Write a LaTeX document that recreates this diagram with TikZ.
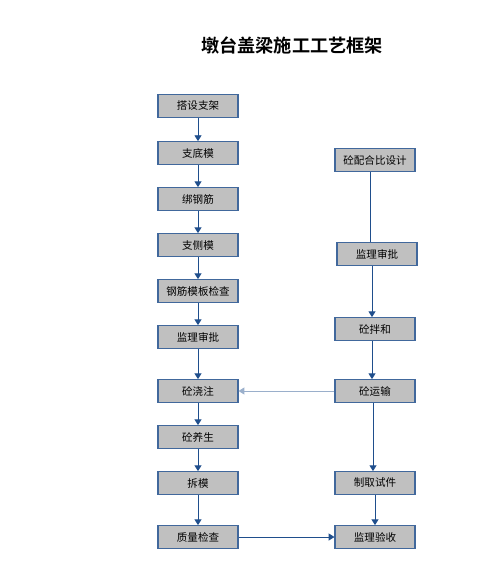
\documentclass[tikz,border=0pt]{standalone}
\usepackage{fontspec}
\newfontfamily\cjk{Noto Sans CJK SC}
\newfontfamily\cjkbold{Noto Sans CJK SC Bold}
\usetikzlibrary{arrows.meta,positioning}
\definecolor{linkblue}{HTML}{1F4E8C}
\definecolor{boxedge}{HTML}{41689C}
\definecolor{boxfill}{HTML}{C0C0C0}
\tikzset{
    flow/.style  = {-{Triangle[width=6pt,length=5pt]}, line width=0.8pt, draw=linkblue},
    plain/.style = {line width=0.8pt, draw=linkblue},
    stepbox/.style = {rectangle, draw=boxedge, line width=0.9pt, fill=boxfill,
                      minimum width=2.4cm, minimum height=0.68cm, inner sep=1pt,
                      font=\cjk\fontsize{9}{10}\selectfont}
}

\begin{document}
\begin{tikzpicture}[x=0.03cm, y=-0.03cm,
        title/.style = {font=\cjkbold\fontsize{15.5}{17}\selectfont},
        back/.style  = {-{Triangle[width=6pt,length=5pt]}, line width=0.8pt, draw=linkblue!45}
    ]
        \useasboundingbox (0,0) rectangle (502,565);

        % Title
        \node[title] (ttl) at (292, 45) {墩台盖梁施工工艺框架};

        % Left column
        \node[stepbox] (l1)  at (198, 106) {搭设支架};
        \node[stepbox] (l2)  at (198, 153) {支底模};
        \node[stepbox] (l3)  at (198, 199) {绑钢筋};
        \node[stepbox] (l4)  at (198, 245) {支侧模};
        \node[stepbox] (l5)  at (198, 291) {钢筋模板检查};
        \node[stepbox] (l6)  at (198, 337) {监理审批};
        \node[stepbox] (l7)  at (198, 391) {砼浇注};
        \node[stepbox] (l8)  at (198, 437) {砼养生};
        \node[stepbox] (l9)  at (198, 483) {拆模};
        \node[stepbox] (l10) at (198, 537) {质量检查};

        % Right column
        \node[stepbox] (r1) at (375, 160) {砼配合比设计};
        \node[stepbox] (r2) at (377, 254) {监理审批};
        \node[stepbox] (r3) at (375, 329) {砼拌和};
        \node[stepbox] (r4) at (375, 391) {砼运输};
        \node[stepbox] (r5) at (375, 483) {制取试件};
        \node[stepbox] (r6) at (375, 537) {监理验收};

        % Left chain
        \foreach \a/\b in {l1/l2, l2/l3, l3/l4, l4/l5, l5/l6, l6/l7, l7/l8, l8/l9, l9/l10}
            \draw[flow] (\a) -- (\b);

        % Right chain
        \draw[plain] (r1.south -| 370,0) -- (r2.north -| 370,0);
        \draw[flow] (r2.south -| 372,0) -- (r3.north -| 372,0);
        \draw[flow] (r3.south -| 372,0) -- (r4.north -| 372,0);
        \draw[flow] (r4.south -| 373,0) -- (r5.north -| 373,0);
        \draw[flow] (r5) -- (r6);

        % Cross links
        \draw[back] (r4) -- (l7);
        \draw[flow] (l10) -- (r6);

    \end{tikzpicture}
\end{document}
